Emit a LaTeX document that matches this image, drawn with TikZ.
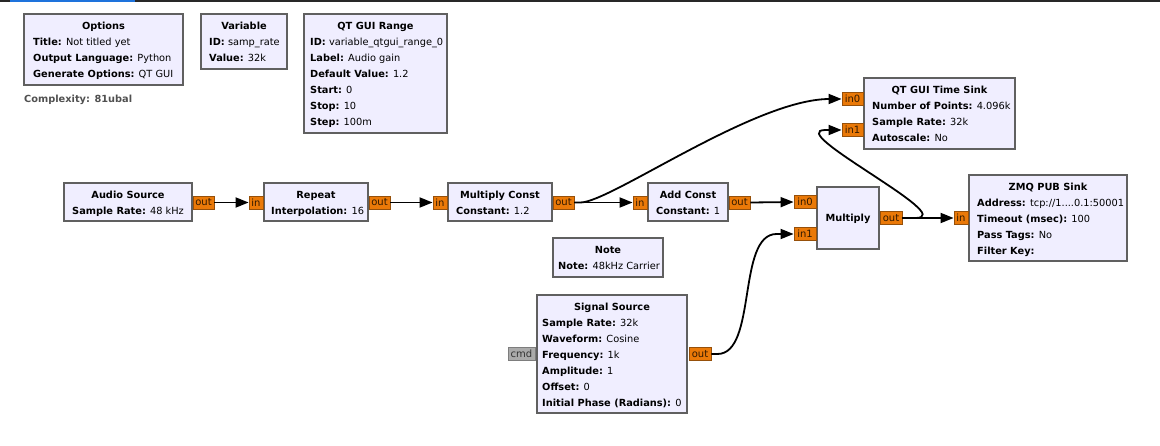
\documentclass[tikz,border=0pt]{standalone}
\usepackage{fontspec}
\setmainfont{DejaVu Sans}
\usetikzlibrary{arrows.meta}
\definecolor{blockfill}{RGB}{240,238,255}
\definecolor{blockborder}{RGB}{96,96,96}
\definecolor{portfill}{RGB}{234,121,8}
\definecolor{portborder}{RGB}{150,80,10}
\definecolor{porttext}{RGB}{50,25,0}
\definecolor{cmdfill}{RGB}{170,170,170}
\definecolor{cmdborder}{RGB}{125,125,125}
\definecolor{cmdtext}{RGB}{50,50,50}
\definecolor{cplx}{RGB}{80,80,80}
\definecolor{topblue}{RGB}{30,115,220}
\definecolor{topdark}{RGB}{40,40,40}
\tikzset{
  blockbox/.style={draw=blockborder, fill=blockfill, line width=2pt, inner sep=0pt, minimum height=38pt},
  ttl/.style={font=\fontsize{9.8pt}{16pt}\selectfont\bfseries, inner sep=0pt, anchor=base},
  prm/.style={font=\fontsize{9.8pt}{16pt}\selectfont, inner sep=0pt, anchor=base west},
  portbox/.style={draw=portborder, fill=portfill, line width=0.8pt, inner sep=0pt, minimum height=13pt, text=porttext, font=\fontsize{10pt}{12pt}\selectfont},
  cmdbox/.style={draw=cmdborder, fill=cmdfill, line width=0.8pt, inner sep=0pt, minimum height=13pt, text=cmdtext, font=\fontsize{10pt}{12pt}\selectfont},
  wire/.style={line width=1.8pt, draw=black, -{Triangle[length=13pt,width=10pt]}}
}
\begin{document}
\begin{tikzpicture}[x=1pt,y=-1pt]
\useasboundingbox (0,0) rectangle (1160,446);
% top bar
\fill[topdark] (0,0) rectangle (1160,1.6);
\fill[topblue] (10,0) rectangle (135,2.2);

% ---------- Options ----------
\node[blockbox, minimum width=159pt, minimum height=71pt] (opt) at (103.5,49.5) {};
\node[ttl] (optT) at (103.5,29.5) {Options};
\node[prm] (opt1) at (33,45.5) {\textbf{Title:} Not titled yet};
\node[prm] (opt2) at (33,61.5) {\textbf{Output Language:} Python};
\node[prm] (opt3) at (33,77.5) {\textbf{Generate Options:} QT GUI};
\node[prm, text=cplx, font=\fontsize{9.8pt}{16pt}\selectfont\bfseries] (cplxT) at (24,102.5) {Complexity: 81ubal};

% ---------- Variable ----------
\node[blockbox, minimum width=86pt, minimum height=55pt] (var) at (244,41.5) {};
\node[ttl] (varT) at (244,29.5) {Variable};
\node[prm] (var1) at (209,45.5) {\textbf{ID:} samp\_rate};
\node[prm] (var2) at (209,61.5) {\textbf{Value:} 32k};

% ---------- QT GUI Range ----------
\node[blockbox, minimum width=143pt, minimum height=119pt] (qtr) at (375.5,73.5) {};
\node[ttl] (qtrT) at (375.5,29.5) {QT GUI Range};
\node[prm] (qtr1) at (310,45.5) {\textbf{ID:} variable\_qtgui\_range\_0};
\node[prm] (qtr2) at (310,61.5) {\textbf{Label:} Audio gain};
\node[prm] (qtr3) at (310,77.5) {\textbf{Default Value:} 1.2};
\node[prm] (qtr4) at (310,93.5) {\textbf{Start:} 0};
\node[prm] (qtr5) at (310,109.5) {\textbf{Stop:} 10};
\node[prm] (qtr6) at (310,125.5) {\textbf{Step:} 100m};

% ---------- Audio Source ----------
\node[blockbox, minimum width=128pt] (aud) at (128,202) {};
\node[ttl] (audT) at (128,198.5) {Audio Source};
\node[prm] (aud1) at (72,214.5) {\textbf{Sample Rate:} 48 kHz};
\node[portbox, minimum width=21pt] (audout) at (203.5,202.5) {out};

% ---------- Repeat ----------
\node[blockbox, minimum width=104pt] (rep) at (316,202) {};
\node[ttl] (repT) at (316,198.5) {Repeat};
\node[prm] (rep1) at (271,214.5) {\textbf{Interpolation:} 16};
\node[portbox, minimum width=14pt] (repin) at (256,202.5) {in};
\node[portbox, minimum width=21pt] (repout) at (379.5,202.5) {out};

% ---------- Multiply Const ----------
\node[blockbox, minimum width=104pt] (mc) at (500,202) {};
\node[ttl] (mcT) at (500,198.5) {Multiply Const};
\node[prm] (mc1) at (456,214.5) {\textbf{Constant:} 1.2};
\node[portbox, minimum width=14pt] (mcin) at (440,202.5) {in};
\node[portbox, minimum width=21pt] (mcout) at (563.5,202.5) {out};

% ---------- Add Const ----------
\node[blockbox, minimum width=80pt] (ac) at (688,202) {};
\node[ttl] (acT) at (688,198.5) {Add Const};
\node[prm] (ac1) at (656,214.5) {\textbf{Constant:} 1};
\node[portbox, minimum width=14pt] (acin) at (640,202.5) {in};
\node[portbox, minimum width=21pt] (acout) at (739.5,202.5) {out};

% ---------- Multiply ----------
\node[blockbox, minimum width=62pt, minimum height=62pt] (mul) at (848,218) {};
\node[ttl] (mulT) at (848,221.5) {Multiply};
\node[portbox, minimum width=22pt] (mulin0) at (805,202) {in0};
\node[portbox, minimum width=22pt] (mulin1) at (805,234) {in1};
\node[portbox, minimum width=22pt] (mulout) at (891,218) {out};

% ---------- QT GUI Time Sink ----------
\node[blockbox, minimum width=151pt, minimum height=71pt] (ts) at (939.5,113.5) {};
\node[ttl] (tsT) at (939.5,93.5) {QT GUI Time Sink};
\node[prm] (ts1) at (872,109.5) {\textbf{Number of Points:} 4.096k};
\node[prm] (ts2) at (872,125.5) {\textbf{Sample Rate:} 32k};
\node[prm] (ts3) at (872,141.5) {\textbf{Autoscale:} No};
\node[portbox, minimum width=21pt] (tsin0) at (852.5,99) {in0};
\node[portbox, minimum width=21pt] (tsin1) at (852.5,130) {in1};

% ---------- ZMQ PUB Sink ----------
\node[blockbox, minimum width=158pt, minimum height=86pt] (zmq) at (1048,218) {};
\node[ttl] (zmqT) at (1048,190.5) {ZMQ PUB Sink};
\node[prm] (zmq1) at (977,206.5) {\textbf{Address:} tcp://1....0.1:50001};
\node[prm] (zmq2) at (977,222.5) {\textbf{Timeout (msec):} 100};
\node[prm] (zmq3) at (977,238.5) {\textbf{Pass Tags:} No};
\node[prm] (zmq4) at (977,254.5) {\textbf{Filter Key:}};
\node[portbox, minimum width=14pt] (zmqin) at (961,218) {in};

% ---------- Note ----------
\node[blockbox, minimum width=110pt, minimum height=39pt] (note) at (608,257.5) {};
\node[ttl] (noteT) at (608,253.5) {Note};
\node[prm] (note1) at (558,269.5) {\textbf{Note:} 48kHz Carrier};

% ---------- Signal Source ----------
\node[blockbox, minimum width=150pt, minimum height=118pt] (ss) at (612,354) {};
\node[ttl] (ssT) at (612,310.5) {Signal Source};
\node[prm] (ss1) at (542,326.5) {\textbf{Sample Rate:} 32k};
\node[prm] (ss2) at (542,342.5) {\textbf{Waveform:} Cosine};
\node[prm] (ss3) at (542,358.5) {\textbf{Frequency:} 1k};
\node[prm] (ss4) at (542,374.5) {\textbf{Amplitude:} 1};
\node[prm] (ss5) at (542,390.5) {\textbf{Offset:} 0};
\node[prm] (ss6) at (542,406.5) {\textbf{Initial Phase (Radians):} 0};
\node[cmdbox, minimum width=27pt] (sscmd) at (521.5,354) {cmd};
\node[portbox, minimum width=22pt] (ssout) at (700,354) {out};

% ---------- connections ----------
\draw[wire] (audout.east) -- (repin.west);
\draw[wire] (repout.east) -- (mcin.west);
\draw[wire] (mcout.east) -- (acin.west);
\draw[wire] (acout.east) -- (mulin0.west);
\draw[wire] (mulout.east) -- (zmqin.west);
\draw[wire] (mcout.east) -- ++(6,0) .. controls +(30,0) and +(-75,0) .. ([xshift=-12pt]tsin0.west) -- (tsin0.west);
\draw[wire] (ssout.east) -- ++(6,0) .. controls +(40,0) and +(-40,0) .. ([xshift=-17pt]mulin1.west) -- (mulin1.west);
\draw[wire] (mulout.east) -- ++(13,0) .. controls +(45,0) and +(-43,0) .. ([xshift=-16pt]tsin1.west) -- (tsin1.west);
\end{tikzpicture}
\end{document}
